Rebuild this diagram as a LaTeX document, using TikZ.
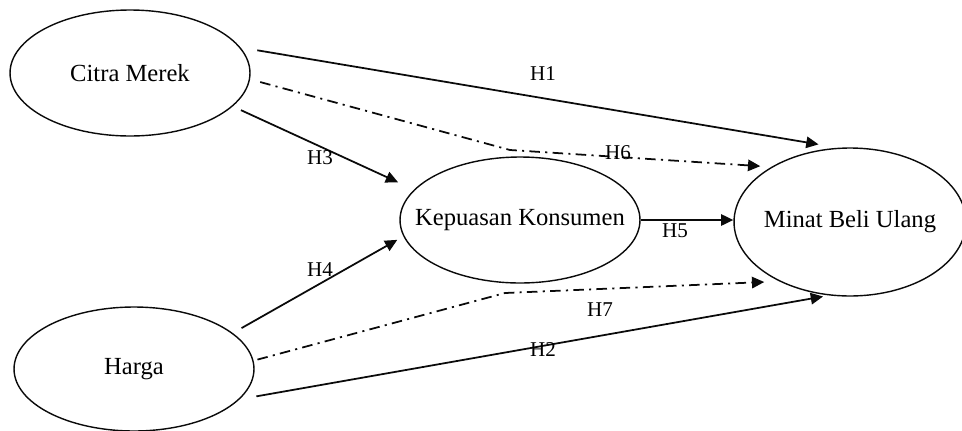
\documentclass[tikz,border=0pt]{standalone}
\usepackage{fontspec}
\setmainfont{Liberation Serif}
\usepackage{tikz}
\usetikzlibrary{shapes.geometric,arrows.meta,positioning,calc}
\definecolor{linegray}{RGB}{10, 10, 10}
\newcommand{\varname}[1]{\makebox[0pt]{#1}}

\begin{document}
\begin{tikzpicture}[
    x=0.02cm, y=-0.02cm,
    var/.style={ellipse, draw=linegray, line width=0.8pt, inner sep=0pt, font=\fontsize{14}{16}\selectfont, minimum width=4.8cm, minimum height=2.52cm},
    path/.style={-{Triangle[length=7pt, width=6.5pt]}, line width=1pt, draw=linegray},
    indirect/.style={path, dash pattern=on 6pt off 3pt on 1.2pt off 3pt},
    hyp/.style={font=\fontsize{12}{14}\selectfont, inner sep=1pt}
]
\useasboundingbox (0,0) rectangle (962,430);

% Nodes
\node (cm) [var] at (130,73) {\varname{Citra Merek}};
\node (hg) [var, minimum height=2.48cm] at (134,369) {\varname{Harga}};
\node (kk) [var] at (520,220) {\varname{Kepuasan Konsumen}};
\node (mb) [var, minimum width=4.64cm, minimum height=2.96cm] at (850,222) {\varname{Minat Beli Ulang}};

\coordinate (b6) at (510,150);
\coordinate (b7) at (505,293);

% Connectors
\draw [path, shorten <=0.34cm, shorten >=0.40cm] (cm.13) -- (mb.99);
\draw [indirect, shorten <=0.21cm, shorten >=0.22cm] (cm.-3) -- (b6) -- (mb.145);
\draw [path, shorten <=0.18cm, shorten >=0.35cm] (cm.-18) -- (kk.164);
\draw [path, shorten <=0.20cm, shorten >=0.14cm] (hg.20) -- (kk.188);
\draw [path] (kk.east) -- (kk.east -| mb.west);
\draw [indirect, shorten <=0.08cm, shorten >=0.30cm] (hg.4) -- (b7) -- (mb.220);
\draw [path, shorten <=0.34cm, shorten >=0.12cm] (hg.-16) -- (mb.254);

% Labels
\node (h1) [hyp] at (543,74) {H1};
\node (h2) [hyp] at (543,350) {H2};
\node (h3) [hyp] at (320,158) {H3};
\node (h4) [hyp] at (320,270) {H4};
\node (h5) [hyp] at (675,231) {H5};
\node (h6) [hyp] at (618,153) {H6};
\node (h7) [hyp] at (600,310) {H7};

\end{tikzpicture}
\end{document}
